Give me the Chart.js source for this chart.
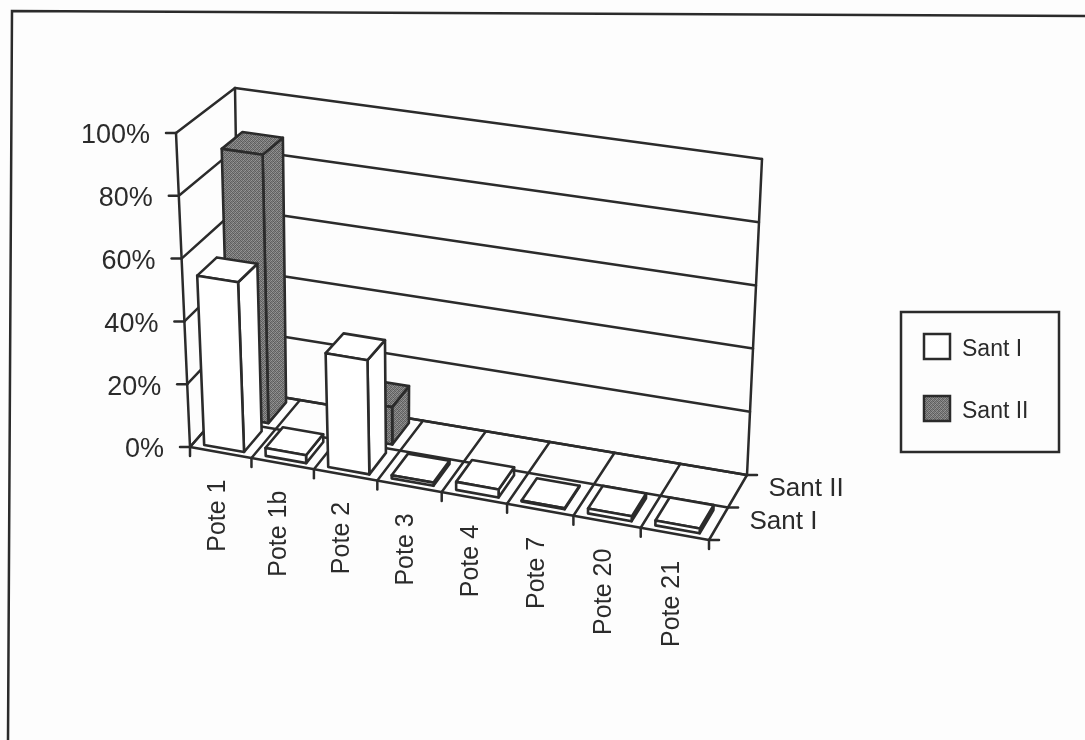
<!DOCTYPE html>
<html>
<head>
<meta charset="utf-8">
<title>Pote</title>
<style>
  html, body { margin: 0; padding: 0; background: #fdfdfd; }
  #wrap { width: 1085px; height: 740px; }
</style>
<script src="https://cdn.jsdelivr.net/npm/chart.js@4/dist/chart.umd.min.js"></script>
</head>
<body>
<div id="wrap"><canvas id="grafico" width="1085" height="740"></canvas></div>
<script>
const categorie = ["Pote 1", "Pote 1b", "Pote 2", "Pote 3", "Pote 4", "Pote 7", "Pote 20", "Pote 21"];
const serie = ["Sant I", "Sant II"];
const santI = [54, 2.5, 36, 1, 2.5, 0.3, 1.5, 1.5];
const santII = [87, null, 12, null, null, null, null, null];
const tickY = [0, 20, 40, 60, 80, 100];

const INK = "#2b2b2b";
const FONT = '"Liberation Sans", Arial, sans-serif';

// Corners of the 3D box: front/back, left/right, floor(0)/ceiling(1)
const box = {
    fl0: [190, 447], fl1: [176, 133],
    fr0: [709, 540], fr1: [719, 214],
    bl0: [240, 390], bl1: [235, 88],
    br0: [747, 475], br1: [762, 159]
};

const mix = (a, b, t) => [a[0] + (b[0] - a[0]) * t, a[1] + (b[1] - a[1]) * t];

// u along categories, v along values, w along series (all 0..1)
function proietta(u, v, w) {
    const uu = u - 0.06 * u * (1 - u); // foreshortening towards the left
    const front = mix(mix(box.fl0, box.fr0, uu), mix(box.fl1, box.fr1, uu), v);
    const back = mix(mix(box.bl0, box.br0, uu), mix(box.bl1, box.br1, uu), v);
    return mix(front, back, w);
}

function poligono(ctx, punti, fill) {
    ctx.beginPath();
    punti.forEach((p, i) => i ? ctx.lineTo(p[0], p[1]) : ctx.moveTo(p[0], p[1]));
    ctx.closePath();
    if (fill) {
        ctx.fillStyle = fill;
        ctx.fill();
    }
    ctx.stroke();
}

function linea(ctx, a, b) {
    ctx.beginPath();
    ctx.moveTo(a[0], a[1]);
    ctx.lineTo(b[0], b[1]);
    ctx.stroke();
}

// Speckled dark grey used for the second series
function creaRetino() {
    const toni = [96, 138, 104, 150, 128, 88, 142, 100, 110, 152, 92, 132, 146, 102, 126, 94];
    const tile = document.createElement("canvas");
    tile.width = tile.height = 4;
    const c = tile.getContext("2d");
    toni.forEach((t, i) => {
        c.fillStyle = `rgb(${t},${t},${t})`;
        c.fillRect(i % 4, Math.floor(i / 4), 1, 1);
    });
    return c.createPattern(tile, "repeat");
}

// Bar element that draws itself as a cuboid inside the box
class Barra3D extends Chart.BarElement {
    draw(ctx) {
        const { x, y, base, width } = this.getProps(["x", "y", "base", "width"], false);
        if (isNaN(y) || isNaN(x)) return;
        const chart = this.$chart;
        const sx = chart.scales.x, sy = chart.scales.y, sz = chart.scales.z;
        const u0 = (x - width / 2 - sx.left) / sx.width;
        const u1 = (x + width / 2 - sx.left) / sx.width;
        const v0 = (sy.bottom - base) / sy.height;
        const v1 = (sy.bottom - y) / sy.height;
        const wc = (sz.getPixelForValue(this.$serie) - sz.left) / sz.width;
        const w0 = wc - 0.18, w1 = wc + 0.18;

        ctx.save();
        ctx.strokeStyle = INK;
        ctx.lineWidth = 2.6;
        ctx.lineJoin = "round";
        const fill = this.options.backgroundColor;
        // right side, top, front
        poligono(ctx, [proietta(u1, v0, w0), proietta(u1, v0, w1), proietta(u1, v1, w1), proietta(u1, v1, w0)], fill);
        poligono(ctx, [proietta(u0, v1, w0), proietta(u1, v1, w0), proietta(u1, v1, w1), proietta(u0, v1, w1)], fill);
        poligono(ctx, [proietta(u0, v0, w0), proietta(u1, v0, w0), proietta(u1, v1, w0), proietta(u0, v1, w0)], fill);
        ctx.restore();
    }
}
Barra3D.id = "barra3d";
Barra3D.defaults = Chart.BarElement.defaults;
Barra3D.defaultRoutes = Chart.BarElement.defaultRoutes;

class Barre3DController extends Chart.BarController {
    updateElements(rects, start, count, mode) {
        super.updateElements(rects, start, count, mode);
        // each element needs the chart and its series to find its depth
        rects.forEach(r => {
            r.$chart = this.chart;
            r.$serie = this.getDataset().label;
        });
    }
}
Barre3DController.id = "barre3d";
Barre3DController.defaults = Object.assign({}, Chart.BarController.defaults, { dataElementType: "barra3d" });
Barre3DController.overrides = Chart.BarController.overrides;

Chart.register(Barra3D, Barre3DController);

const retino = creaRetino();

// Frame, walls, floor and axes of the box
const pluginScatola = {
    id: "scatola",
    beforeDatasetsDraw(chart) {
        const ctx = chart.ctx;
        const sx = chart.scales.x, sy = chart.scales.y, sz = chart.scales.z;
        ctx.save();
        ctx.strokeStyle = INK;
        ctx.lineWidth = 2.5;
        ctx.lineCap = "round";

        // sheet border
        ctx.beginPath();
        ctx.moveTo(8, 740);
        ctx.lineTo(12, 11);
        ctx.lineTo(1085, 16);
        ctx.stroke();

        // value gridlines on left and back wall
        tickY.forEach(val => {
            const v = (sy.bottom - sy.getPixelForValue(val)) / sy.height;
            const a = proietta(0, v, 0), b = proietta(0, v, 1), c = proietta(1, v, 1);
            linea(ctx, a, b);
            linea(ctx, b, c);
            linea(ctx, [a[0] - 10, a[1]], a);
        });
        linea(ctx, proietta(0, 0, 0), proietta(0, 1, 0));
        linea(ctx, proietta(0, 0, 1), proietta(0, 1, 1));
        linea(ctx, proietta(1, 0, 1), proietta(1, 1, 1));

        // floor: category separators with their ticks
        for (let i = 0; i <= categorie.length; i++) {
            const u = (sx.getPixelForValue(i - 0.5) - sx.left) / sx.width;
            const a = proietta(u, 0, 0);
            linea(ctx, a, proietta(u, 0, 1));
            linea(ctx, a, [a[0], a[1] + 9]);
        }
        // floor: series separators with their ticks
        for (let i = 0; i <= serie.length; i++) {
            const w = (sz.getPixelForValue(i - 0.5) - sz.left) / sz.width;
            const a = proietta(0, 0, w), b = proietta(1, 0, w);
            linea(ctx, a, b);
            linea(ctx, b, [b[0] + 10, b[1]]);
        }
        ctx.restore();
    },
    afterDatasetsDraw(chart) {
        const ctx = chart.ctx;
        const sx = chart.scales.x, sy = chart.scales.y, sz = chart.scales.z;
        ctx.save();
        ctx.fillStyle = INK;

        // value labels
        ctx.font = "27px " + FONT;
        ctx.textAlign = "right";
        ctx.textBaseline = "middle";
        sy.ticks.forEach(t => {
            const v = (sy.bottom - sy.getPixelForValue(t.value)) / sy.height;
            const p = proietta(0, v, 0);
            ctx.fillText(t.label, p[0] - 26, p[1] + 3);
        });

        // category labels, rotated
        ctx.font = "25px " + FONT;
        sx.ticks.forEach(t => {
            const u = (sx.getPixelForValue(t.value) - sx.left) / sx.width;
            const p = proietta(u, 0, 0);
            ctx.save();
            ctx.translate(p[0] - 3, p[1] + 27);
            ctx.rotate(-Math.PI / 2);
            ctx.fillText(t.label, 0, 0);
            ctx.restore();
        });

        // series labels on the depth axis
        ctx.font = "26px " + FONT;
        ctx.textAlign = "left";
        sz.ticks.forEach(t => {
            const w = (sz.getPixelForValue(t.value) - sz.left) / sz.width;
            const p = proietta(1, 0, w);
            ctx.fillText(t.label, p[0] + 31, p[1] - 2);
        });

        // legend box
        ctx.strokeStyle = INK;
        ctx.lineWidth = 2.5;
        ctx.strokeRect(901, 312, 158, 140);
        ctx.font = "23px " + FONT;
        chart.data.datasets.forEach((ds, i) => {
            const top = 334 + i * 62;
            ctx.fillStyle = ds.backgroundColor;
            ctx.fillRect(924, top, 26, 25);
            ctx.strokeRect(924, top, 26, 25);
            ctx.fillStyle = INK;
            ctx.fillText(ds.label, 962, top + 16);
        });
        ctx.restore();
    }
};

new Chart(document.getElementById("grafico"), {
    type: "barre3d",
    data: {
        labels: categorie,
        datasets: [
            { label: serie[0], data: santI, backgroundColor: "#ffffff", grouped: false, barPercentage: 0.65, categoryPercentage: 1 },
            { label: serie[1], data: santII, backgroundColor: retino, grouped: false, barPercentage: 0.65, categoryPercentage: 1 }
        ]
    },
    options: {
        responsive: false,
        animation: false,
        layout: { padding: 0 },
        plugins: { legend: { display: false }, tooltip: { enabled: false } },
        scales: {
            x: { type: "category", offset: true, display: false, ticks: { autoSkip: false } },
            y: {
                min: 0, max: 100, display: false,
                ticks: { stepSize: 20, callback: v => v + "%" }
            },
            z: { axis: "x", type: "category", labels: serie, offset: true, display: false, ticks: { autoSkip: false } }
        }
    },
    plugins: [pluginScatola]
});
</script>
</body>
</html>
